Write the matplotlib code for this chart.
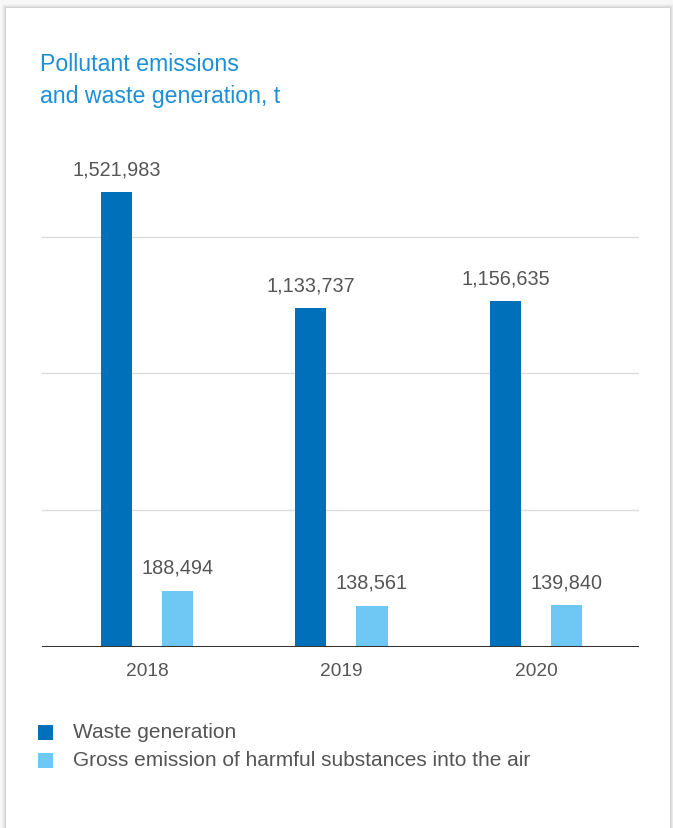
import matplotlib.pyplot as plt
from matplotlib.patches import Rectangle
import numpy as np

plt.rcParams['font.family'] = ['Liberation Sans', 'DejaVu Sans']

years = ['2018', '2019', '2020']
waste = [1521983, 1133737, 1156635]
emissions = [188494, 138561, 139840]
series_names = ['Waste generation', 'Gross emission of harmful substances into the air']
grid_values = [458000, 916000, 1371000]

DARK = '#0070bb'
LIGHT = '#6ec8f3'
TEXT = '#555555'
TITLE = '#1d8fd6'

W, H = 673, 829
fig = plt.figure(figsize=(W / 100, H / 100), dpi=100)
fig.patch.set_facecolor('#f7f7f7')

# card with a soft shadow
for i, a in enumerate([0.05, 0.04, 0.03, 0.02]):
    d = i + 1
    fig.patches.append(Rectangle(((6 - d) / W, 0), (664 + 2 * d) / W, (820 + d) / H,
                                 transform=fig.transFigure, facecolor='black',
                                 alpha=a, edgecolor='none', zorder=0))
fig.patches.append(Rectangle((6 / W, 0), 664 / W, 820 / H, transform=fig.transFigure,
                             facecolor='white', edgecolor='none', zorder=1))

ax_left, ax_right = 42, 639
base_y, top_y = 648, 155
ax = fig.add_axes([ax_left / W, (H - base_y) / H, (ax_right - ax_left) / W, (base_y - top_y) / H])
ax.set_facecolor('none')
ax.set_zorder(2)

x = np.arange(len(years))
bw = 0.16
off = 0.157
ax.bar(x - off, waste, bw, color=DARK, zorder=3)
ax.bar(x + off, emissions, bw, color=LIGHT, zorder=3)

for xi, v in zip(x, waste):
    ax.annotate(f'{v:,}', (xi - off, v), xytext=(0, 10), textcoords='offset points',
                ha='center', va='bottom', fontsize=14.3, color=TEXT)
for xi, v in zip(x, emissions):
    ax.annotate(f'{v:,}', (xi + off, v), xytext=(0, 10), textcoords='offset points',
                ha='center', va='bottom', fontsize=14.3, color=TEXT)

for g in grid_values:
    ax.axhline(g, color='#dddddd', lw=1, zorder=1)
ax.axhline(0, color='#333333', lw=1.5, zorder=4)

ax.set_xlim(-0.54, 2.53)
ax.set_ylim(0, 1.65e6)
for s in ax.spines.values():
    s.set_visible(False)
ax.set_yticks([])
ax.set_xticks(x)
ax.set_xticklabels(years, fontsize=13.8, color=TEXT)
ax.tick_params(axis='x', length=0, pad=11)

# title
fig.text(40 / W, 1 - 71 / H, 'Pollutant emissions', fontsize=16.7, color=TITLE,
         ha='left', va='baseline', zorder=5)
fig.text(40 / W, 1 - 103 / H, 'and waste generation, t', fontsize=16.7, color=TITLE,
         ha='left', va='baseline', zorder=5)

# legend
for (yc, col, name) in [(733, DARK, series_names[0]), (761, LIGHT, series_names[1])]:
    fig.patches.append(Rectangle((38 / W, 1 - (yc + 8) / H), 15 / W, 15 / H,
                                 transform=fig.transFigure, facecolor=col,
                                 edgecolor='none', zorder=5))
    fig.text(73 / W, 1 - yc / H, name, fontsize=15, color=TEXT,
             ha='left', va='center', zorder=5)

fig.savefig('out.png', dpi=100)
